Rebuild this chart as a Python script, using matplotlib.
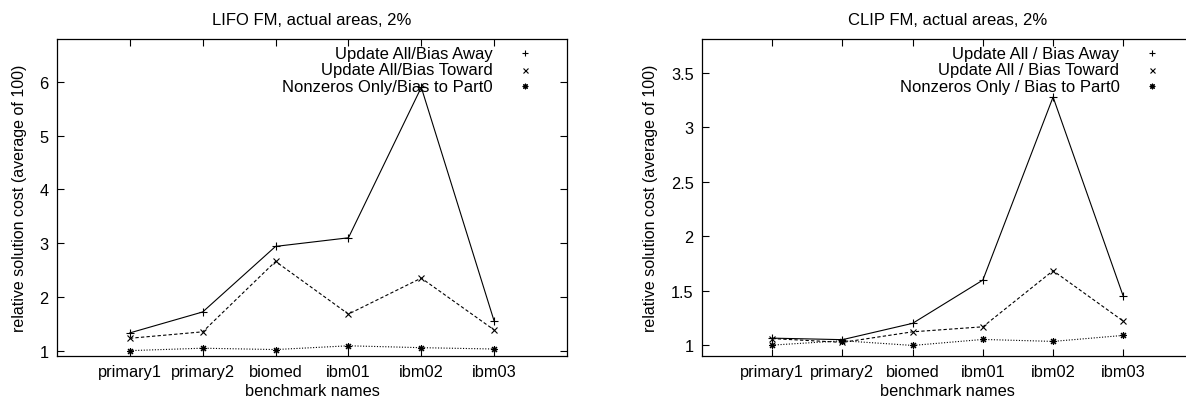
import matplotlib
matplotlib.use("Agg")
import matplotlib.pyplot as plt
import numpy as np

BENCHMARKS = ["primary1", "primary2", "biomed", "ibm01", "ibm02", "ibm03"]

LIFO_AWAY = [1.33, 1.72, 2.94, 3.10, 5.90, 1.55]
LIFO_TOWARD = [1.23, 1.35, 2.66, 1.68, 2.35, 1.385]
LIFO_NONZERO = [1.00, 1.045, 1.02, 1.09, 1.055, 1.03]
LIFO_LABELS = ["Update All/Bias Away", "Update All/Bias Toward", "Nonzeros Only/Bias to Part0"]

CLIP_AWAY = [1.064, 1.05, 1.20, 1.597, 3.277, 1.448]
CLIP_TOWARD = [1.06, 1.025, 1.122, 1.168, 1.683, 1.22]
CLIP_NONZERO = [1.00, 1.04, 0.997, 1.052, 1.034, 1.089]
CLIP_LABELS = ["Update All / Bias Away", "Update All / Bias Toward", "Nonzeros Only / Bias to Part0"]

DPI = 100
FIG_W, FIG_H = 1186, 406

plt.rcParams.update(
    {
        "font.family": ["Liberation Sans", "DejaVu Sans"],
        "font.size": 12,
        "axes.linewidth": 0.9,
    }
)

STYLES = [
    ("-", "+", 6),
    ((0, (3, 2)), "x", 4.5),
    ((0, (1, 1.5)), (8, 2, 0), 5),
]


def draw_panel(ax, series, labels, title, ylim, yticks, yticklabels, width_px):
    x = np.arange(len(BENCHMARKS))
    for values, (ls, marker, ms) in zip(series, STYLES):
        ax.plot(x, values, color="black", linestyle=ls, linewidth=0.8,
                marker=marker, markersize=ms, markeredgewidth=0.8)
    ax.set_xlim(-1, 6)
    ax.set_ylim(*ylim)
    ax.set_xticks(x, BENCHMARKS)
    ax.set_yticks(yticks, yticklabels)
    ax.tick_params(direction="in", length=5, width=0.8, top=True, right=True,
                   labelsize=11.8, pad=6)
    ax.set_title(title, fontsize=12, pad=11)
    ax.set_xlabel("benchmark names", fontsize=11.8, labelpad=3)
    ax.set_ylabel("relative solution cost (average of 100)", fontsize=11.5, labelpad=9)

    # gnuplot style key: right-aligned text followed by the point symbol
    text_x = 1 - 74 / width_px
    mark_x = 1 - 42 / width_px
    for i, (label, (ls, marker, ms)) in enumerate(zip(labels, STYLES)):
        y = 1 - (14 + i * 16.7) / 317
        ax.text(text_x, y, label, transform=ax.transAxes, ha="right", va="center",
                fontsize=12)
        ax.plot([mark_x], [y], transform=ax.transAxes, color="black", linestyle="none",
                marker=marker, markersize=ms * 0.8, markeredgewidth=0.8, clip_on=False)


fig = plt.figure(figsize=(FIG_W / DPI, FIG_H / DPI), dpi=DPI)
left1, right1 = 57, 567
left2, right2 = 702, 1193.5
bottom, top = 357, 40
ax1 = fig.add_axes([left1 / FIG_W, 1 - bottom / FIG_H, (right1 - left1) / FIG_W, (bottom - top) / FIG_H])
ax2 = fig.add_axes([left2 / FIG_W, 1 - bottom / FIG_H, (right2 - left2) / FIG_W, (bottom - top) / FIG_H])

draw_panel(ax1, [LIFO_AWAY, LIFO_TOWARD, LIFO_NONZERO], LIFO_LABELS,
           "LIFO FM, actual areas, 2%", (0.9, 6.8),
           [1, 2, 3, 4, 5, 6], ["1", "2", "3", "4", "5", "6"], right1 - left1)
draw_panel(ax2, [CLIP_AWAY, CLIP_TOWARD, CLIP_NONZERO], CLIP_LABELS,
           "CLIP FM, actual areas, 2%", (0.9, 3.81),
           [1, 1.5, 2, 2.5, 3, 3.5], ["1", "1.5", "2", "2.5", "3", "3.5"], right2 - left2)

fig.savefig("out.png", dpi=DPI)
